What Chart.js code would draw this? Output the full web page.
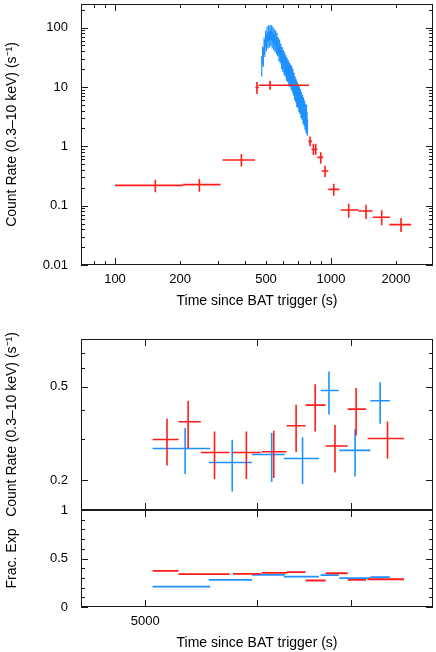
<!DOCTYPE html>
<html>
<head>
<meta charset="utf-8">
<script src="https://cdn.jsdelivr.net/npm/chart.js@4.4.0/dist/chart.umd.min.js"></script>
<style>
html, body { margin: 0; padding: 0; background: #fff; }
body { width: 436px; height: 652px; position: relative; overflow: hidden; }
canvas { position: absolute; left: 0; }
</style>
</head>
<body>
<canvas id="c_top" width="436" height="320" style="top:0"></canvas>
<canvas id="c_mid" width="436" height="212" style="top:320px"></canvas>
<canvas id="c_bot" width="436" height="162" style="top:490px"></canvas>
<script>
// top panel, PC mode bins (red)
const pcTime   = [153.7, 245.8, 384.6, 454, 522, 799.6, 828.5, 849.3, 896, 938, 1029, 1207, 1452, 1716, 2109];
const pcTimeLo = [100, 206, 315, 446, 462, 785, 813, 835, 865, 905, 972, 1109, 1338, 1559, 1862];
const pcTimeHi = [206, 308, 445, 464, 791, 817, 851, 865, 921, 972, 1093, 1338, 1559, 1875, 2347];
const pcRate   = [0.220, 0.226, 0.588, 9.82, 10.7, 1.21, 0.887, 0.89, 0.651, 0.383, 0.188, 0.0845, 0.0813, 0.0637, 0.0479];
const pcRateLo = [0.168, 0.172, 0.459, 7.58, 8.97, 1.0, 0.713, 0.72, 0.509, 0.304, 0.147, 0.0628, 0.0597, 0.0467, 0.036];
const pcRateHi = [0.274, 0.281, 0.741, 12.1, 12.7, 1.47, 1.106, 1.10, 0.791, 0.471, 0.2345, 0.108, 0.104, 0.0835, 0.062];

// top panel, WT mode bins (blue)
const wtTime = [478, 482, 486, 490, 494, 498, 502, 506, 510, 514, 518, 522, 526, 530, 534, 538, 542, 546, 550, 554,
  558, 562, 566, 570, 574, 578, 582, 586, 590, 594, 598, 602, 606, 610, 614, 618, 622, 626, 630, 634,
  638, 642, 646, 650, 654, 658, 662, 666, 670, 674, 678, 682, 686, 690, 694, 698, 702, 706, 710, 714,
  718, 722, 726, 730, 734, 738, 742, 746, 750, 754, 758, 762, 766, 770, 774, 778];
const wtRate = [24, 36, 34, 52, 47, 68, 58, 80, 64, 84, 66, 86, 70, 85, 65, 80, 60, 74, 57, 68,
  52, 63, 48, 53, 39, 48, 36, 41, 30, 36, 27, 32, 24, 29, 22, 26, 19, 23.5, 18, 21.5,
  16, 19.5, 15, 18, 13.5, 17, 12.3, 15, 11, 13, 9.3, 11.2, 8.5, 10, 7.3, 9.1, 6.9, 8.2, 6.1, 7.5,
  5.6, 6.8, 4.9, 6, 4.5, 5.3, 4, 4.9, 3.6, 4.3, 3.2, 3.8, 2.9, 3.6, 2.7, 2.2];
const wtErr = [9, 12, 12, 16, 15, 21, 18, 24, 20, 25, 20, 25, 21, 25, 20, 24, 18, 22, 18, 21,
  16, 19, 15, 16, 12, 15, 11, 13, 10, 11, 9, 10, 8, 9.3, 7.2, 8.3, 6.3, 7.5, 6, 6.9,
  5.4, 6.3, 5, 5.9, 4.5, 5.5, 4.2, 5, 3.8, 4.4, 3.3, 3.8, 3, 3.5, 2.7, 3.2, 2.5, 2.9, 2.3, 2.7,
  2.1, 2.4, 1.9, 2.2, 1.7, 2, 1.6, 1.8, 1.4, 1.6, 1.3, 1.4, 1.2, 1.35, 1.1, 0.7];
const wtHalfBin = 2;

// lower panels, red bins
const lateRedT    = [5181, 5363, 5600, 5900, 6171, 6401, 6604, 6822, 7062, 7435];
const lateRedTLo  = [5060, 5279, 5476, 5771, 6050, 6301, 6501, 6718, 6966, 7198];
const lateRedTHi  = [5279, 5476, 5740, 6040, 6301, 6501, 6718, 6966, 7178, 7638];
const lateRedRate = [0.298, 0.3545, 0.2623, 0.2623, 0.2641, 0.3409, 0.4178, 0.2793, 0.4017, 0.301];
const lateRedLo   = [0.231, 0.274, 0.202, 0.202, 0.204, 0.2634, 0.3224, 0.2156, 0.310, 0.2466];
const lateRedHi   = [0.365, 0.4358, 0.3224, 0.3224, 0.3246, 0.419, 0.5134, 0.3432, 0.4937, 0.3556];
const lateRedFrac = [0.372, 0.338, 0.338, 0.341, 0.352, 0.359, 0.273, 0.348, 0.279, 0.286];

// lower panels, blue bins
const lateBlueT    = [5337, 5765, 6150, 6469, 6755, 7050, 7346];
const lateBlueTLo  = [5060, 5548, 5955, 6273, 6663, 6870, 7229];
const lateBlueTHi  = [5561, 5955, 6283, 6645, 6864, 7229, 7464];
const lateBlueRate = [0.2729, 0.2377, 0.2572, 0.2473, 0.482, 0.2676, 0.4358];
const lateBlueLo   = [0.2122, 0.1789, 0.1962, 0.1923, 0.381, 0.2072, 0.3476];
const lateBlueHi   = [0.3333, 0.2972, 0.3174, 0.304, 0.581, 0.330, 0.5236];
const lateBlueFrac = [0.211, 0.279, 0.331, 0.314, 0.328, 0.297, 0.307];

// tick values
const topXTicks = [80, 90, 100, 200, 300, 400, 500, 600, 700, 800, 900, 1000, 2000];
const topXLabels = [100, 200, 500, 1000, 2000];
const topYTicks = [0.01, 0.02, 0.03, 0.04, 0.05, 0.06, 0.07, 0.08, 0.09, 0.1, 0.2, 0.3, 0.4, 0.5, 0.6, 0.7, 0.8, 0.9,
  1, 2, 3, 4, 5, 6, 7, 8, 9, 10, 20, 30, 40, 50, 60, 70, 80, 90, 100, 200];
const topYLabels = [0.01, 0.1, 1, 10, 100];
const lateXTicks = [5000, 6000, 7000];
const lateXLabels = [5000];
const midYTicks = [0.2, 0.3, 0.4, 0.5, 0.6, 0.7];
const midYLabels = [0.2, 0.5];
const fracYTicks = [0, 0.1, 0.2, 0.3, 0.4, 0.5, 0.6, 0.7, 0.8, 0.9, 1];
const fracYLabels = [0, 0.5, 1];

const RED = 'rgb(255,28,28)';
const BLUE = 'rgb(30,144,255)';
const rateTitle = 'Count Rate (0.3\u201310 keV) (s\u207B\u00B9)';
const timeTitle = 'Time since BAT trigger (s)';

Chart.defaults.font.family = '"Liberation Sans", Arial, sans-serif';
Chart.defaults.font.size = 13;
Chart.defaults.color = '#000';

function hBars(lo, hi, y, color, width) {
  const pts = [];
  for (let i = 0; i < y.length; i++) {
    pts.push({x: lo[i], y: y[i]}, {x: hi[i], y: y[i]}, {x: hi[i], y: null});
  }
  return {data: pts, borderColor: color, borderWidth: width, pointRadius: 0, spanGaps: false, fill: false};
}

function vBars(x, lo, hi, color, width) {
  const pts = [];
  for (let i = 0; i < x.length; i++) {
    pts.push({x: x[i], y: lo[i]}, {x: x[i], y: hi[i]}, {x: x[i], y: null});
  }
  return {data: pts, borderColor: color, borderWidth: width, pointRadius: 0, spanGaps: false, fill: false};
}

// frame + inward tick marks on all four sides
const boxTicks = {
  id: 'boxTicks',
  afterDraw(chart, args, opts) {
    const {ctx, chartArea: a} = chart;
    ctx.save();
    ctx.strokeStyle = '#1a1a1a';
    ctx.lineWidth = 1;
    for (const id of ['x', 'y']) {
      const s = chart.scales[id];
      const major = opts.major[id] || [];
      for (const t of s.ticks) {
        const len = major.includes(t.value) ? 7 : 4;
        const p = Math.round(s.getPixelForValue(t.value)) + 0.5;
        ctx.beginPath();
        if (id === 'x') {
          ctx.moveTo(p, a.bottom); ctx.lineTo(p, a.bottom - len);
          ctx.moveTo(p, a.top); ctx.lineTo(p, a.top + len);
        } else {
          ctx.moveTo(a.left, p); ctx.lineTo(a.left + len, p);
          ctx.moveTo(a.right, p); ctx.lineTo(a.right - len, p);
        }
        ctx.stroke();
      }
    }
    ctx.strokeRect(Math.round(a.left) + 0.5, Math.round(a.top) + 0.5,
      Math.round(a.right - a.left) - 1, Math.round(a.bottom - a.top) - 1);
    ctx.restore();
  }
};

function axis(type, min, max, ticks, labels, extra) {
  return Object.assign({
    type: type, min: min, max: max, bounds: 'data',
    grid: {display: false, drawTicks: false, drawOnChartArea: false},
    border: {display: false},
    afterBuildTicks: s => { s.ticks = ticks.map(v => ({value: v})); },
    ticks: {autoSkip: false, maxRotation: 0, callback: v => labels.includes(v) ? String(v) : ''}
  }, extra);
}

function fixSize(w, h) {
  return s => {
    if (w !== null) s.width = w;
    if (h !== null) s.height = h;
    s.paddingTop = 0; s.paddingBottom = 0; s.paddingLeft = 0; s.paddingRight = 0;
  };
}

function baseOptions(pad, scales, major) {
  return {
    responsive: false, animation: false, devicePixelRatio: 1,
    layout: {padding: pad},
    plugins: {legend: {display: false}, tooltip: {enabled: false}, boxTicks: {major: major}},
    scales: scales
  };
}

// top panel
const topX = axis('logarithmic', 69.6, 2965, topXTicks, topXLabels, {
  afterFit: fixSize(null, 55),
  title: {display: true, text: timeTitle, font: {size: 14}, padding: {top: 0, bottom: 10}}
});
topX.ticks.padding = 7;
const topY = axis('logarithmic', 0.01, 250, topYTicks, topYLabels, {
  afterFit: fixSize(81, null),
  title: {display: true, text: rateTitle, font: {size: 14}, padding: {top: 4, bottom: 0}}
});
topY.ticks.padding = 13;

new Chart(document.getElementById('c_top'), {
  type: 'line',
  data: {datasets: [
    hBars(pcTimeLo, pcTimeHi, pcRate, RED, 1.6),
    vBars(pcTime, pcRateLo, pcRateHi, RED, 1.6),
    hBars(wtTime.map(t => t - wtHalfBin), wtTime.map(t => t + wtHalfBin), wtRate, BLUE, 1),
    vBars(wtTime, wtRate.map((r, i) => r - wtErr[i]), wtRate.map((r, i) => r + wtErr[i]), BLUE, 1.2)
  ]},
  options: baseOptions({left: 0, right: 3, top: 4, bottom: 0}, {x: topX, y: topY}, {x: [100, 1000], y: topYLabels}),
  plugins: [boxTicks]
});

// middle panel: count rate
const midX = axis('logarithmic', 4500, 8010, lateXTicks, [], {afterFit: fixSize(null, 0)});
midX.ticks.display = false;
const midY = axis('logarithmic', 0.149, 0.8, midYTicks, midYLabels, {
  afterFit: fixSize(81, null),
  title: {display: true, text: rateTitle, font: {size: 14}, padding: {top: 4, bottom: 0}}
});
midY.ticks.padding = 13;

new Chart(document.getElementById('c_mid'), {
  type: 'line',
  data: {datasets: [
    hBars(lateRedTLo, lateRedTHi, lateRedRate, RED, 1.6),
    vBars(lateRedT, lateRedLo, lateRedHi, RED, 1.6),
    hBars(lateBlueTLo, lateBlueTHi, lateBlueRate, BLUE, 1.6),
    vBars(lateBlueT, lateBlueLo, lateBlueHi, BLUE, 1.6)
  ]},
  options: baseOptions({left: 0, right: 3, top: 19, bottom: 22}, {x: midX, y: midY}, {x: lateXTicks, y: midYLabels}),
  plugins: [boxTicks]
});

// bottom panel: fractional exposure
const botX = axis('logarithmic', 4500, 8010, lateXTicks, lateXLabels, {
  afterFit: fixSize(null, 45),
  title: {display: true, text: timeTitle, font: {size: 14}, padding: {top: 0, bottom: 0}}
});
botX.ticks.padding = 7;
const botY = axis('linear', 0, 1, fracYTicks, fracYLabels, {
  afterFit: fixSize(81, null),
  title: {display: true, text: 'Frac. Exp', font: {size: 14}, padding: {top: 4, bottom: 0}}
});
botY.ticks.padding = 13;

new Chart(document.getElementById('c_bot'), {
  type: 'line',
  data: {datasets: [
    hBars(lateRedTLo, lateRedTHi, lateRedFrac, RED, 1.8),
    hBars(lateBlueTLo, lateBlueTHi, lateBlueFrac, BLUE, 1.8)
  ]},
  options: baseOptions({left: 0, right: 3, top: 20, bottom: 0}, {x: botX, y: botY}, {x: lateXTicks, y: fracYLabels}),
  plugins: [boxTicks]
});
</script>
</body>
</html>
